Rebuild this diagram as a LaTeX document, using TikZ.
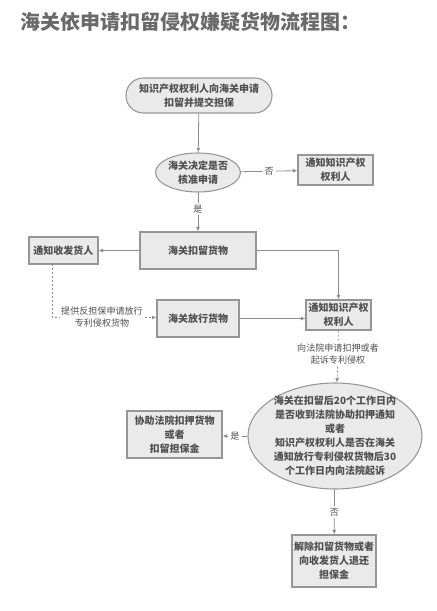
\documentclass[tikz,border=0pt]{standalone}
\usepackage{fontspec}
\setmainfont{Noto Sans CJK SC}
\usetikzlibrary{arrows.meta}
\usetikzlibrary{shapes.geometric}

\definecolor{boxfill}{RGB}{234,234,234}
\definecolor{boxline}{RGB}{150,150,150}
\definecolor{txtgray}{RGB}{80,80,80}
\definecolor{titlegray}{RGB}{105,105,105}
\definecolor{linegray}{RGB}{140,140,140}

\begin{document}
\begin{tikzpicture}[x=0.75pt,y=0.75pt,yscale=-1,xscale=1,
  base/.style={draw=boxline,fill=boxfill,line width=0.8pt,text=txtgray,align=center,
    font=\fontsize{7.5}{10.5}\selectfont\bfseries},
  procbox/.style={base,rectangle,inner sep=0pt},
  startbox/.style={base,rectangle,rounded corners=13pt,inner sep=0pt},
  decide/.style={base,ellipse,inner xsep=0pt,inner ysep=0pt},
  size/.style 2 args={minimum width=#1*0.75pt,minimum height=#2*0.75pt},
  flow/.style={draw=linegray,line width=0.6pt,-{Latex[length=3.5pt,width=3pt]}},
  dflow/.style={flow,dash pattern={on 1.5pt off 1.5pt}},
  lbl/.style={fill=white,text=txtgray,inner sep=1.5pt,font=\fontsize{6.8}{9}\selectfont,align=center}]
\useasboundingbox (0,0) rectangle (436,611);

% Title
\node [anchor=west,inner sep=0pt,text=titlegray,font=\fontsize{15}{18}\selectfont\bfseries] (title) at (20,22) {海关依申请扣留侵权嫌疑货物流程图：};

%Shape: Rounded Rectangle
\node [startbox,size={146}{35}] (apply) at (199,95.5) {知识产权权利人向海关申请\\扣留并提交担保};
%Shape: Ellipse
\node [decide,size={82}{39}] (approve) at (198,172.5) {海关决定是否\\核准申请};
%Shape: Rectangle
\node [procbox,size={75}{30}] (notifyowner) at (335.5,170) {通知知识产权\\权利人};
\node [procbox,size={116}{37}] (detain) at (198,250.5) {海关扣留货物};
\node [procbox,size={69}{27}] (notifyconsignee) at (63.5,250.5) {通知收发货人};
\node [procbox,size={82}{37}] (release) at (198,318.5) {海关放行货物};
\node [procbox,size={65}{30}] (notifyholder) at (338.5,315) {通知知识产权\\权利人};
%Shape: Ellipse
\node [decide,size={174}{106},inner ysep=-3.5pt] (check) at (335,436) {海关在扣留后20个工作日内\\是否收到法院协助扣押通知\\或者\\知识产权权利人是否在海关\\通知放行专利侵权货物后30\\个工作日内向法院起诉};
\node [procbox,size={95}{47}] (assist) at (174.5,434.5) {协助法院扣押货物\\或者\\扣留担保金};
\node [procbox,size={84}{52}] (lift) at (334,561) {解除扣留货物或者\\向收发货人退还\\担保金};

% Text Node
\node [lbl] (bond) at (102,317.5) {提供反担保申请放行\\专利侵权货物};
\node [lbl] (court) at (338,354) {向法院申请扣押或者\\起诉专利侵权};
\coordinate (drop) at (52,264);

%Straight Lines
\draw [flow] (apply) -- (approve);
\draw [flow] (approve) -- node [lbl] {否} (notifyowner);
\draw [flow] (approve) -- node [lbl,pos=0.43] {是} (detain);
\draw [flow] (detain) -- (notifyconsignee);
\draw [flow] (detain.east) -| (notifyholder.north);
\draw [flow] (release.east) -- (release.east -| notifyholder.west);
\draw [dflow,-] (drop) |- (bond.west);
\draw [dflow] (bond.east) -- (release.west |- bond.east);
\draw [dflow,-] (notifyholder) -- (court);
\draw [dflow] (court) -- (check);
\draw [flow] (check.west) -- node [lbl] {是} (check.west -| assist.east);
\draw [flow] (check) -- node [lbl] {否} (lift);

\end{tikzpicture}
\end{document}
